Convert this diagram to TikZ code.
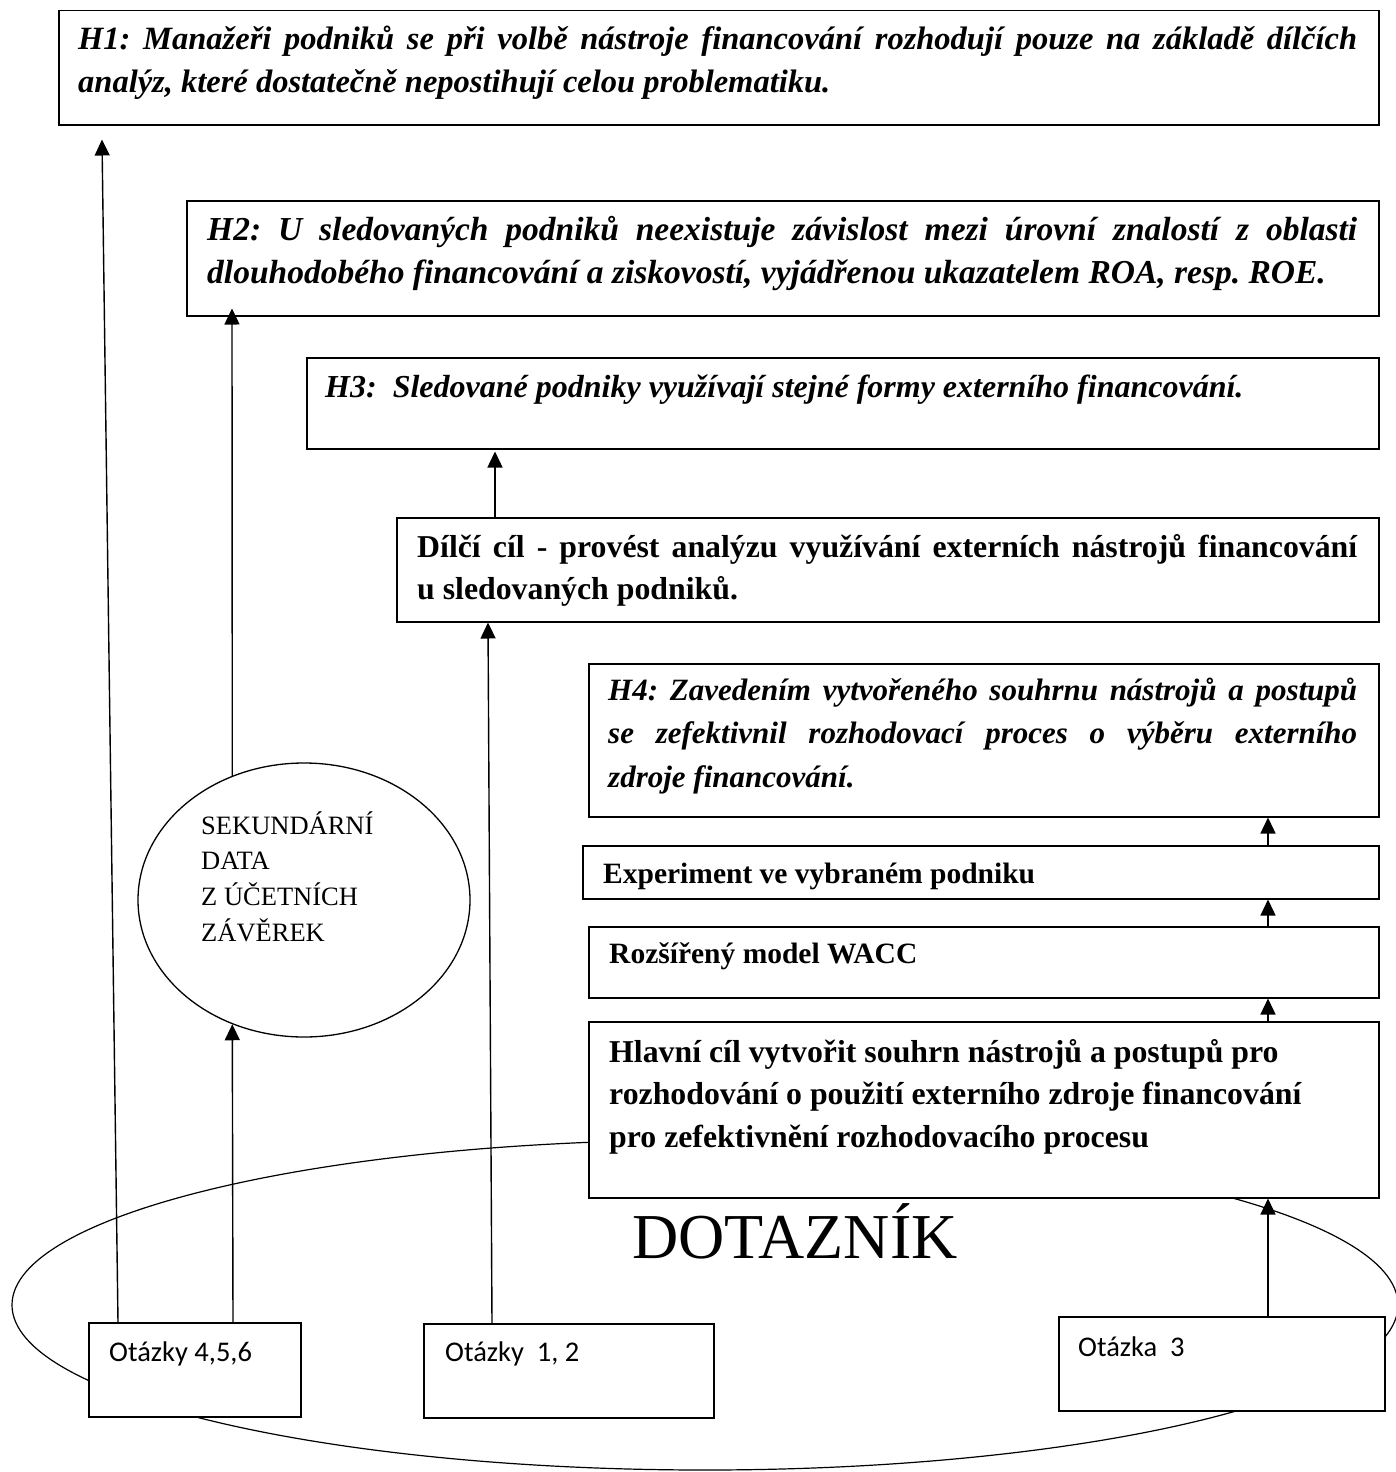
\documentclass[tikz,border=0pt]{standalone}
\usepackage{fontspec}
\setmainfont{Liberation Serif}
\newfontfamily\tnrfont{Liberation Serif}
\newfontfamily\calibrifont{Carlito}
\usetikzlibrary{shapes.geometric,arrows.meta,calc}
\frenchspacing

\begin{document}
\begin{tikzpicture}[x=1pt,y=-1pt,
  rbox/.style={draw, line width=1.5pt, fill=white, rectangle, inner sep=0pt, anchor=north west},
  oval/.style={draw, ellipse, inner sep=0pt},
  hyp/.style={anchor=base west, inner sep=0pt, font=\tnrfont\fontsize{32.5}{42.5}\selectfont\bfseries\itshape},
  bld/.style={anchor=base west, inner sep=0pt, font=\tnrfont\fontsize{31.8}{42.5}\selectfont\bfseries},
  qtxt/.style={anchor=base west, inner sep=0pt, font=\calibrifont\fontsize{28.5}{34}\selectfont},
  arr/.style={line width=1.4pt, -{Triangle[length=16pt,width=15pt]}}
]
\useasboundingbox (0,0) rectangle (1395,1472);

% big questionnaire ellipse
\node[oval, line width=1.2pt, minimum width=1386pt, minimum height=330pt] (dotaznik) at (705,1305) {};
\node[anchor=base west, inner sep=0pt, font=\tnrfont\fontsize{64}{70}\selectfont] (dotlabel) at (632,1258) {DOTAZNÍK};

% boxes
\node[rbox, minimum width=1320pt, minimum height=114pt] (h1) at (58,10) {};
\node[rbox, minimum width=1192pt, minimum height=115pt] (h2) at (186,200) {};
\node[rbox, minimum width=1072pt, minimum height=91pt] (h3) at (306,357) {};
\node[rbox, minimum width=982pt, minimum height=104pt] (dilci) at (396,517) {};
\node[rbox, minimum width=790pt, minimum height=153pt] (h4) at (588,663) {};
\node[rbox, minimum width=796pt, minimum height=53pt] (exper) at (582,845) {};
\node[rbox, minimum width=790pt, minimum height=71pt] (wacc) at (588,926) {};
\node[rbox, minimum width=790pt, minimum height=176pt] (hlavni) at (588,1021) {};
\node[rbox, minimum width=212pt, minimum height=94pt] (q456) at (88,1322) {};
\node[rbox, minimum width=290pt, minimum height=94pt] (q12) at (423,1323) {};
\node[rbox, minimum width=326pt, minimum height=94pt] (q3) at (1058,1316) {};

% secondary data ellipse
\node[oval, line width=1.3pt, minimum width=332pt, minimum height=274pt] (sec) at (304,900) {};

% texts
\node[hyp] (h1t) at (78,50) {\parbox[t]{1279pt}{%
  \makebox[1279pt][s]{H1: Manažeři podniků se při volbě nástroje financování rozhodují pouze na základě dílčích}\\
  analýz, které dostatečně nepostihují celou problematiku.}};
\node[hyp] (h2t) at (207,240) {\parbox[t]{1150pt}{\fontsize{33.5}{43}\selectfont
  \makebox[1150pt][s]{H2: U sledovaných podniků neexistuje závislost mezi úrovní znalostí z oblasti}\\
  dlouhodobého financování a ziskovostí, vyjádřenou ukazatelem ROA, resp. ROE.}};
\node[hyp, font=\tnrfont\fontsize{32}{42}\selectfont\bfseries\itshape] (h3t) at (325,397) {H3:\ \ Sledované podniky využívají stejné formy externího financování.};
\node[bld] (dilcit) at (417,557) {\parbox[t]{940pt}{%
  \makebox[940pt][s]{Dílčí cíl - provést analýzu využívání externích nástrojů financování}\\
  u sledovaných podniků.}};
\node[hyp] (h4t) at (608,700) {\parbox[t]{749pt}{\fontsize{31}{43.5}\selectfont
  \makebox[749pt][s]{H4: Zavedením vytvořeného souhrnu nástrojů a postupů}\\
  \makebox[749pt][s]{se zefektivnil rozhodovací proces o výběru externího}\\
  zdroje financování.}};
\node[bld, font=\tnrfont\fontsize{29.5}{40}\selectfont\bfseries] (expert) at (603,883) {Experiment ve vybraném podniku};
\node[bld, font=\tnrfont\fontsize{29.5}{40}\selectfont\bfseries] (wacct) at (609,963) {Rozšířený model WACC};
\node[bld] (hlavnit) at (609,1062) {\parbox[t]{760pt}{\raggedright
  Hlavní cíl vytvořit souhrn nástrojů a postupů pro\\
  rozhodování o použití externího zdroje financování\\
  pro zefektivnění rozhodovacího procesu}};
\node[anchor=base west, inner sep=0pt, font=\tnrfont\fontsize{26.5}{35.7}\selectfont] (sect) at (201,834) {\parbox[t]{240pt}{\raggedright
  SEKUNDÁRNÍ\\DATA\\Z ÚČETNÍCH\\ZÁVĚREK}};
\node[qtxt] (q456t) at (109,1361) {Otázky 4,5,6};
\node[qtxt] (q12t) at (445,1361) {Otázky\ \ 1, 2};
\node[qtxt] (q3t) at (1078,1356) {Otázka\ \ 3};

% connectors
\draw[arr] ([xshift=30pt]q456.north west) -- ([xshift=44pt,yshift=-14pt]h1.south west);
\draw[arr] ([xshift=145pt]q456.north west) -- (sec.240);
\draw[arr] (sec.120) -- ([xshift=46pt,yshift=8pt]h2.south west);
\draw[arr] ([xshift=69pt]q12.north west) -- ([xshift=92pt]dilci.south west);
\draw[arr] ([xshift=99pt]dilci.north west) -- ([xshift=189pt,yshift=-2pt]h3.south west);
\draw[arr] ([xshift=686pt]exper.north west) -- ([xshift=680pt]h4.south west);
\draw[arr] ([xshift=680pt]wacc.north west) -- ([xshift=686pt]exper.south west);
\draw[arr] ([xshift=680pt]hlavni.north west) -- ([xshift=680pt]wacc.south west);
\draw[arr] ([xshift=210pt]q3.north west) -- ([xshift=680pt]hlavni.south west);
\end{tikzpicture}
\end{document}
